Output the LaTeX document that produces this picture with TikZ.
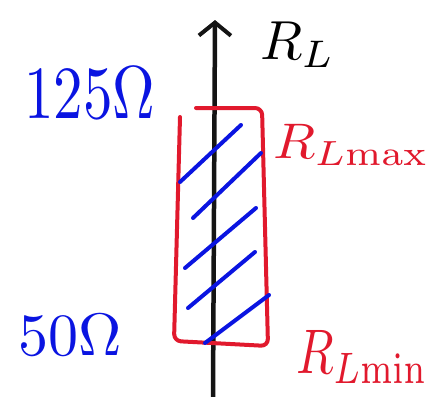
\documentclass[tikz,border=0pt]{standalone}
\usepackage{amsmath}
\usetikzlibrary{positioning,arrows.meta}
\definecolor{pen}{RGB}{20,20,20}
\definecolor{bpen}{RGB}{10,20,225}
\definecolor{rpen}{RGB}{225,25,45}
\newcommand{\hand}[3]{\scalebox{#1}[#2]{$#3$}}
\begin{document}
\begin{tikzpicture}[x=1pt,y=-1pt,line cap=round,line join=round,ax/.style={draw=pen,line width=4.5pt,-{Straight Barb[length=13pt,width=32pt,line width=4pt]}},band/.style={draw=rpen,line width=4pt,rounded corners=7pt},hatch/.style={draw=bpen,line width=4pt},bl/.style={text=bpen,inner sep=0pt},rl/.style={text=rpen,inner sep=0pt}]
\useasboundingbox (0,0) rectangle (440,397);
\coordinate (o) at (213,397);\coordinate (top) at (215,20);
\draw[ax](o)--(top);
\node[inner sep=0pt,anchor=west](rl) at (260,45){\hand{5.5}{5.5}{R_L}};
\draw[band](196,108)--(262,108)--(268,346)--(174,341)--(180,117);
\draw[hatch](180,182)--(241,125);\draw[hatch](193,218)--(261,153);\draw[hatch](185,268)--(256,208);\draw[hatch](188,308)--(255,252);\draw[hatch](205,343)--(269,295);
\node[bl](hi) at (90,93){\hand{5.9}{7.5}{125\Omega}};
\node[bl](lo) at (70,335){\hand{6}{6}{50\Omega}};
\node[rl,anchor=west](rmax) at (273,145){\hand{5.5}{5}{R_{L\mathrm{max}}}};
\node[rl,anchor=west](rmin) at (296,357){\hand{4.9}{6.3}{R_{L\mathrm{min}}}};
\end{tikzpicture}
\end{document}
